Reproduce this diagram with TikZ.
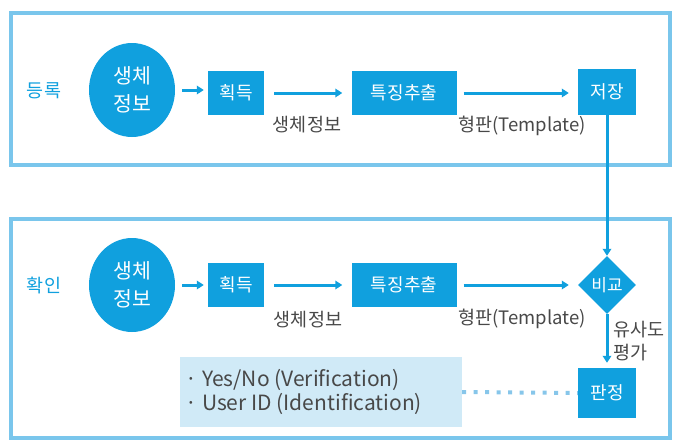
\documentclass[tikz,border=0pt]{standalone}
\usepackage{fontspec}
\setmainfont{Noto Sans CJK KR}
\usepackage{xcolor}
\usetikzlibrary{arrows.meta,shapes.geometric}
\definecolor{bioBlue}{RGB}{16,160,222}
\definecolor{bioFrame}{RGB}{122,198,236}
\definecolor{bioPale}{RGB}{208,234,247}
\definecolor{bioInk}{RGB}{72,72,72}
\definecolor{bioDot}{RGB}{135,198,234}
\tikzset{
  bioframe/.style={draw=bioFrame,line width=4.5pt},
  biobox/.style={fill=bioBlue,text=white,inner sep=0pt,minimum height=44pt,font=\fontsize{18}{20}\selectfont},
  bioellipse/.style={ellipse,fill=bioBlue,text=white,inner sep=0pt,minimum width=86pt,minimum height=94pt,
    align=center,font=\fontsize{20.5}{28}\selectfont},
  biodiamond/.style={diamond,fill=bioBlue,text=white,inner sep=0pt,minimum width=58pt,minimum height=58pt,
    font=\fontsize{17}{20}\selectfont},
  biostage/.style={text=bioBlue,font=\fontsize{18.5}{20}\selectfont},
  biolabel/.style={text=bioInk,font=\fontsize{18.5}{23}\selectfont},
  bioflow/.style={-{Triangle[length=7pt,width=8.5pt]},draw=bioBlue,line width=3pt},
  biodots/.style={draw=bioDot,line width=4pt,dash pattern=on 4pt off 7.5pt},
}

\begin{document}
\begin{tikzpicture}[x=1pt,y=-1pt]
\useasboundingbox (0,0) rectangle (674,442);
% Two frames: enrolment on top, verification below.
\draw[bioframe] (11,13) rectangle (670,165);
\draw[bioframe] (11,219) rectangle (670,438);

% Enrolment row.
\node[biostage] (enrolTag) at (44,91) {등록};
\node[bioellipse] (enrolBio) at (132,90) {생체\\정보};
\node[biobox,minimum width=56pt] (enrolGet) at (236,93) {획득};
\node[biobox,minimum width=105pt] (enrolFeat) at (404,93) {특징추출};
\node[biobox,minimum width=58pt,minimum height=46pt] (enrolStore) at (607,92) {저장};
\draw[bioflow,shorten <=7pt,shorten >=4pt] (enrolBio.east) -- (enrolBio.east -| enrolGet.west);
\draw[bioflow,shorten <=10pt,shorten >=9pt] (enrolGet.east) -- (enrolFeat.west);
\draw[bioflow,shorten <=7pt,shorten >=9pt] (enrolFeat.east) -- (enrolFeat.east -| enrolStore.west);
\node[biolabel] (enrolRaw) at (307,125) {생체정보};
\node[biolabel] (enrolTpl) at (522,126) {형판(Template)};

% Verification row.
\node[biostage] (verifTag) at (44,286) {확인};
\node[bioellipse] (verifBio) at (132,285) {생체\\정보};
\node[biobox,minimum width=56pt] (verifGet) at (236,285) {획득};
\node[biobox,minimum width=105pt] (verifFeat) at (404,285) {특징추출};
\node[biodiamond] (verifCmp) at (607,285) {비교};
\node[biobox,minimum width=58pt,minimum height=50pt] (verifJudge) at (607,393) {판정};
\draw[bioflow,shorten <=7pt,shorten >=4pt] (verifBio.east) -- (verifGet.west);
\draw[bioflow,shorten <=10pt,shorten >=9pt] (verifGet.east) -- (verifFeat.west);
\draw[bioflow,shorten <=7pt,shorten >=9pt] (verifFeat.east) -- (verifCmp.west);
\node[biolabel] (verifRaw) at (308,320) {생체정보};
\node[biolabel] (verifTpl) at (522,319) {형판(Template)};

% Stored template goes down to the comparison.
\draw[bioflow] (enrolStore.south) -- (verifCmp.north);
\draw[bioflow,shorten >=5pt] (verifCmp.south) -- (verifJudge.north);
\node[biolabel,anchor=west,align=left] (verifScore) at (610,341) {유사도\\평가};

% Decision output.
\node[fill=bioPale,minimum width=282pt,minimum height=70pt,inner sep=0pt] (verifOut) at (321,392) {};
\node[text=bioInk,anchor=west,align=left,font=\fontsize{21}{24}\selectfont] (verifOutText) at (182,392)
  {· Yes/No (Verification)\\· User ID (Identification)};
\draw[biodots] (verifOut.east) -- (verifJudge.west);
\end{tikzpicture}
\end{document}
